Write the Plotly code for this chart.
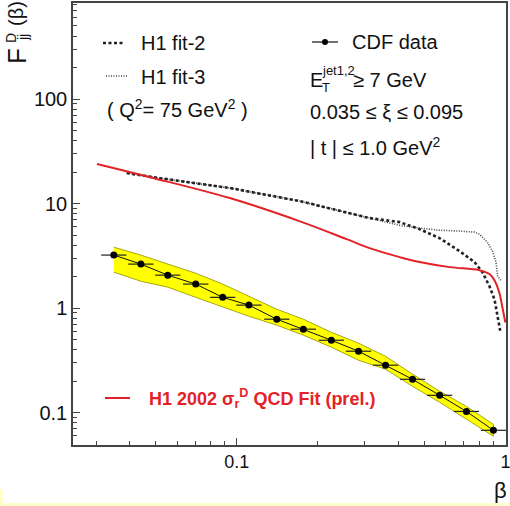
import numpy as np
import plotly.graph_objects as go

# ---- data ----
beta = [0.0349, 0.0440, 0.0554, 0.0704, 0.0887, 0.111, 0.141, 0.177, 0.225,
        0.284, 0.358, 0.451, 0.569, 0.716, 0.902]
F_cdf = [3.22, 2.64, 2.07, 1.70, 1.27, 1.07, 0.785, 0.63, 0.494,
         0.388, 0.285, 0.209, 0.147, 0.103, 0.068]
band_up = [3.83, 3.22, 2.64, 2.16, 1.70, 1.30, 0.978, 0.785, 0.589,
           0.463, 0.347, 0.234, 0.161, 0.115, 0.0776]
band_lo = [2.21, 1.81, 1.59, 1.27, 1.02, 0.838, 0.688, 0.552, 0.424,
           0.318, 0.261, 0.179, 0.126, 0.0867, 0.0596]
bin_half_log = 0.047

red_x = [0.0302, 0.0475, 0.0942, 0.171, 0.2565, 0.312, 0.404, 0.479, 0.620,
         0.800, 0.872, 0.910, 0.950, 0.974, 0.999]
red_y = [23.9, 17.9, 11.3, 6.80, 4.57, 3.75, 3.08, 2.76, 2.47,
         2.31, 2.12, 1.85, 1.39, 1.02, 0.73]

fit2_x = [0.039, 0.0518, 0.0942, 0.171, 0.312, 0.404, 0.479, 0.568, 0.675,
          0.767, 0.821, 0.872, 0.910, 0.934, 0.958]
fit2_y = [19.6, 17.5, 14.1, 10.6, 7.27, 6.65, 5.70, 4.68, 3.51,
          2.76, 2.21, 1.62, 1.22, 0.84, 0.59]

fit3_x = [0.039, 0.0518, 0.0942, 0.171, 0.312, 0.404, 0.479, 0.568, 0.675,
          0.767, 0.800, 0.856, 0.895, 0.922, 0.935, 0.966]
fit3_y = [19.6, 17.5, 14.1, 10.6, 7.27, 6.2, 5.83, 5.57, 5.46,
          5.34, 5.11, 4.28, 3.51, 2.76, 2.02, 1.81]

x_ticks = [0.1, 1]
x_ticklabels = ["0.1", "1"]
y_ticks = [0.1, 1, 10, 100]
y_ticklabels = ["0.1", "1", "10", "100"]

# ---- layout geometry ----
W, H = 510, 506
L, R, T, B = 73, 4, 3, 61
pw, ph = W - L - R, H - T - B


def px(x):
    return (x - L) / pw


def py(y):
    return (H - B - y) / ph


FONT = "Liberation Sans, Arial, Helvetica, sans-serif"

fig = go.Figure()

# yellow uncertainty band
fig.add_trace(go.Scatter(
    x=beta + beta[::-1], y=band_up + band_lo[::-1],
    mode="lines", fill="toself", fillcolor="#ffff00",
    line=dict(color="#8f8f00", width=0.8), hoverinfo="skip", showlegend=False))

# H1 fit-3 (dotted)
fig.add_trace(go.Scatter(x=fit3_x, y=fit3_y, mode="lines",
                         line=dict(color="#444444", width=1.6, dash="1px,1.5px"),
                         showlegend=False))
# H1 fit-2 (dashed)
fig.add_trace(go.Scatter(x=fit2_x, y=fit2_y, mode="lines",
                         line=dict(color="#222222", width=2.6, dash="3px,2.5px"),
                         showlegend=False))
# H1 2002 QCD fit (red)
fig.add_trace(go.Scatter(x=red_x, y=red_y, mode="lines", line_shape="spline",
                         line=dict(color="#e32228", width=2),
                         showlegend=False))

# CDF data
b = np.array(beta)
err_p = b * (10 ** bin_half_log - 1)
err_m = b * (1 - 10 ** (-bin_half_log))
fig.add_trace(go.Scatter(
    x=beta, y=F_cdf, mode="lines+markers",
    line=dict(color="#111111", width=1),
    marker=dict(color="black", size=7),
    error_x=dict(type="data", symmetric=False, array=err_p, arrayminus=err_m,
                 color="#222222", thickness=1.2, width=0),
    showlegend=False))

# minor ticks
xminor = [k * 0.01 for k in range(3, 10)] + [k * 0.1 for k in range(2, 10)]
yminor = [k * 10.0 ** e for e in range(-2, 3) for k in range(2, 10)]

axis_common = dict(type="log", showgrid=False, zeroline=False, showline=True,
                   linecolor="#444444", linewidth=1.5, mirror=True,
                   ticks="inside", tickcolor="#444444", automargin=False,
                   ticklabeloverflow="allow")

fig.update_xaxes(**axis_common, range=[np.log10(0.0246), 0.002],
                 tickmode="array", tickvals=x_ticks, ticktext=x_ticklabels,
                 ticklen=7, tickwidth=1,
                 minor=dict(tickvals=xminor, ticks="inside", ticklen=4,
                            tickcolor="#444444", showgrid=False),
                 tickfont=dict(family=FONT, size=18, color="#111111"))
fig.update_yaxes(**axis_common, range=[-1.308, 2.918],
                 tickmode="array", tickvals=y_ticks, ticktext=y_ticklabels,
                 ticklen=7, tickwidth=1,
                 minor=dict(tickvals=yminor, ticks="inside", ticklen=4,
                            tickcolor="#444444", showgrid=False),
                 tickfont=dict(family=FONT, size=20, color="#111111"))

ann = []


def text(x, y, s, size=20, color="#111111", anchor="left", angle=0, bold=False):
    if bold:
        s = "<b>" + s + "</b>"
    ann.append(dict(x=px(x), y=py(y), xref="paper", yref="paper", text=s,
                    showarrow=False, xanchor=anchor, yanchor="middle",
                    textangle=angle,
                    font=dict(family=FONT, size=size, color=color)))


# legend left
text(139, 43, "H1 fit-2")
text(139, 77, "H1 fit-3")
text(105, 108, "( Q<sup>2</sup>= 75 GeV<sup>2</sup> )")
# legend right
text(350, 42, "CDF data")
text(308, 80, "E")
text(320, 70, "jet1,2", size=13)
text(320, 87, "T", size=13)
text(351, 80, "≥ 7 GeV")
text(308, 112, "0.035 ≤ ξ ≤ 0.095")
text(308, 147, "| t | ≤ 1.0 GeV<sup>2</sup>")
# red legend
text(147, 398, "H1 2002 σ<sub>r</sub><sup>D</sup> QCD Fit (prel.)", size=18,
     color="#e32228", bold=True)
# axis titles
text(16, 14, "(β)", size=20, anchor="center", angle=-90)
text(11, 38, "D", size=14, anchor="center", angle=-90)
text(23, 38, "jj", size=14, anchor="center", angle=-90)
text(17, 56, "F", size=26, anchor="center", angle=-90)
text(500, 490, "β", size=22, anchor="center")

shapes = [
    dict(type="line", xref="paper", yref="paper", x0=px(103), x1=px(124),
         y0=py(43), y1=py(43), line=dict(color="#222222", width=2.4, dash="3px,2.5px")),
    dict(type="line", xref="paper", yref="paper", x0=px(106), x1=px(127),
         y0=py(76), y1=py(76), line=dict(color="#444444", width=1.5, dash="1px,1.5px")),
    dict(type="line", xref="paper", yref="paper", x0=px(312), x1=px(338),
         y0=py(42), y1=py(42), line=dict(color="#111111", width=1.2)),
    dict(type="circle", xref="paper", yref="paper", x0=px(322), x1=px(328),
         y0=py(39), y1=py(45), fillcolor="black", line=dict(color="black", width=0)),
    dict(type="line", xref="paper", yref="paper", x0=px(105), x1=px(130),
         y0=py(398), y1=py(398), line=dict(color="#e32228", width=2)),
    # pale yellow strip at the bottom edge of the image
    dict(type="rect", xref="paper", yref="paper", x0=px(0), x1=px(510),
         y0=py(506), y1=py(503), fillcolor="#ffffcc", line=dict(width=0), layer="below"),
    dict(type="rect", xref="paper", yref="paper", x0=px(0), x1=px(3),
         y0=py(506), y1=py(489), fillcolor="#ffffcc", line=dict(width=0), layer="below"),
]

fig.update_layout(width=W, height=H, margin=dict(l=L, r=R, t=T, b=B),
                  paper_bgcolor="white", plot_bgcolor="white",
                  annotations=ann, shapes=shapes, showlegend=False)

fig.write_html("out.html", config={"displayModeBar": False},
               post_script="document.body.style.margin='0';"
                           "document.body.style.padding='0';"
                           "document.body.style.overflow='hidden';")
